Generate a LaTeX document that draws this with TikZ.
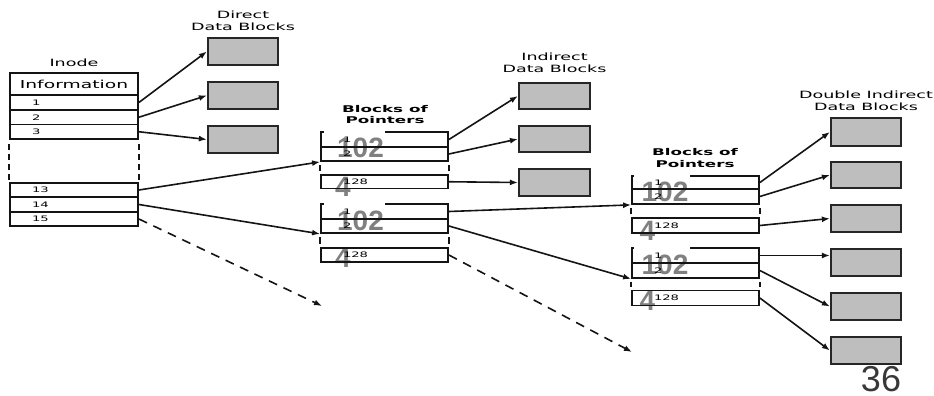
\documentclass[tikz,border=0pt]{standalone}
\usepackage{fontspec}
\setmainfont{DejaVu Sans}
\newfontfamily\ovfont{Liberation Sans}
\usetikzlibrary{arrows.meta,calc}

\definecolor{linec}{HTML}{141414}
\definecolor{blkfill}{HTML}{BEBEBE}
\definecolor{blkline}{HTML}{262626}
\definecolor{ovgray}{HTML}{808080}
\definecolor{pagegray}{HTML}{383838}

% wide lettering of the labels
\newcommand\widetxt[1]{\scalebox{1.75}[1]{#1}}
\newcommand\boldwide[1]{\scalebox{1.8}[1]{\bfseries #1}}

\begin{document}
\begin{tikzpicture}[x=1pt,y=-1pt,
  lab/.style={inner sep=0pt, align=center, font=\fontsize{10}{12}\selectfont},
  plab/.style={inner sep=0pt, align=center, font=\fontsize{9.3}{11.5}\selectfont},
  infocell/.style={draw=linec, line width=1.8pt, minimum width=128pt, minimum height=22pt,
    inner sep=0pt, font=\fontsize{11}{12}\selectfont},
  inodecell/.style={draw=linec, line width=1.8pt, minimum width=128pt, text width=84pt,
    inner xsep=22pt, inner ysep=0pt, align=left, font=\fontsize{7.5}{8}\selectfont},
  ptrcell/.style={inodecell, minimum width=127pt, text width=83pt},
  datablk/.style={draw=blkline, fill=blkfill, line width=2.2pt, minimum width=70pt,
    minimum height=27pt, inner sep=0pt},
  bigdig/.style={inner sep=0pt, text=ovgray, font=\ovfont\bfseries\fontsize{28}{28}\selectfont},
  sidedash/.style={draw=linec, line width=2.2pt, shorten <=3pt, shorten >=3pt},
  ptr/.style={draw=linec, line width=1.6pt, -{Latex[length=8pt,width=6pt]}},
  dptr/.style={ptr, dash pattern=on 9pt off 7pt}]
\useasboundingbox (0,0) rectangle (934,396);

% ---------- overlaid grey figures (under the cell borders) ----------
\node[bigdig] (oa1) at (360.5,148) {102};
\node[bigdig] (oa2) at (343,187) {4};
\node[bigdig] (ob1) at (360.5,220.5) {102};
\node[bigdig] (ob2) at (343,258) {4};
\node[bigdig] (oc1) at (665,192) {102};
\node[bigdig] (oc2) at (647.5,231) {4};
\node[bigdig] (od1) at (665,265) {102};
\node[bigdig] (od2) at (647.5,301) {4};

% ---------- inode ----------
\node[lab] (linode) at (74,63) {\widetxt{Inode}};
\node[infocell] (info) at (74,84) {\scalebox{1.7}[1]{Information}};
\node[inodecell, minimum height=15pt]   (r1)  at (74,102.5)  {\widetxt{1}};
\node[inodecell, minimum height=14.5pt] (r2)  at (74,117.25) {\widetxt{2}};
\node[inodecell, minimum height=14.5pt] (r3)  at (74,131.75) {\widetxt{3}};
\node[inodecell, minimum height=14pt]   (r13) at (74,190)    {\widetxt{13}};
\node[inodecell, minimum height=15pt]   (r14) at (74,204.5)  {\widetxt{14}};
\node[inodecell, minimum height=14pt]   (r15) at (74,219)    {\widetxt{15}};
\draw[draw=linec, line width=2.4pt, dash pattern=on 6pt off 4pt, dash phase=6pt]
  (r3.south west) -- (r13.north west);
\draw[draw=linec, line width=2.4pt, dash pattern=on 6pt off 4pt, dash phase=6pt]
  (r3.south east) -- (r13.north east);

% ---------- direct data blocks ----------
\node[lab] (ldirect) at (243,21) {\widetxt{Direct}\\\widetxt{Data Blocks}};
\node[datablk] (dA1) at (243,51.5) {};
\node[datablk] (dA2) at (243,95.5) {};
\node[datablk] (dA3) at (243,139.5) {};

% ---------- first level blocks of pointers ----------
\node[plab] (lptr1) at (385,114.5) {\boldwide{Blocks of}\\\boldwide{Pointers}};
\node[ptrcell, minimum height=15pt]   (a1) at (384.5,139.5)  {\widetxt{1}};
\node[ptrcell, minimum height=14pt]   (a2) at (384.5,154)    {\widetxt{2}};
\node[ptrcell, minimum height=13.5pt] (a3) at (384.5,181.75) {\widetxt{128}};
\node[ptrcell, minimum height=15pt]   (b1) at (384.5,211.5)  {\widetxt{1}};
\node[ptrcell, minimum height=14pt]   (b2) at (384.5,226)    {\widetxt{2}};
\node[ptrcell, minimum height=14pt]   (b3) at (384.5,255)    {\widetxt{128}};

% ---------- second level blocks of pointers ----------
\node[plab] (lptr2) at (695,158) {\boldwide{Blocks of}\\\boldwide{Pointers}};
\node[ptrcell, minimum height=13pt] (c1) at (695.5,182.5) {\widetxt{1}};
\node[ptrcell, minimum height=15pt] (c2) at (695.5,196.5) {\widetxt{2}};
\node[ptrcell, minimum height=15pt] (c3) at (695.5,225.5) {\widetxt{128}};
\node[ptrcell, minimum height=15pt] (d1) at (695.5,255.5) {\widetxt{1}};
\node[ptrcell, minimum height=15pt] (d2) at (695.5,270.5) {\widetxt{2}};
\node[ptrcell, minimum height=15pt] (d3) at (695.5,298)   {\widetxt{128}};

% openings in the top edges of the pointer blocks
\fill[white] ($(a1.north west)+(4,-1.6)$) rectangle ($(a1.north west)+(65,1.6)$);
\fill[white] ($(b1.north west)+(4,-1.6)$) rectangle ($(b1.north west)+(65,1.6)$);
\fill[white] ($(c1.north west)+(3,-1.6)$) rectangle ($(c1.north west)+(59,1.6)$);
\fill[white] ($(d1.north west)+(3,-1.6)$) rectangle ($(d1.north west)+(59,1.6)$);

% elided middle of each pointer block
\foreach \u/\l in {a2/a3,b2/b3,c2/c3,d2/d3}{
  \draw[sidedash] (\u.south west) -- (\l.north west);
  \draw[sidedash] (\u.south east) -- (\l.north east);
}

% ---------- indirect data blocks ----------
\node[lab] (lindirect) at (554.5,63) {\widetxt{Indirect}\\\widetxt{Data Blocks}};
\node[datablk, minimum width=71pt, minimum height=26pt] (iA1) at (554.5,96) {};
\node[datablk, minimum width=71pt, minimum height=26pt] (iA2) at (554.5,139) {};
\node[datablk, minimum width=71pt] (iA3) at (554.5,182.5) {};

% ---------- double indirect data blocks ----------
\node[lab] (ldouble) at (866,100.5) {\widetxt{Double Indirect}\\\widetxt{Data Blocks}};
\node[datablk, minimum height=28pt] (dd1) at (866,132) {};
\node[datablk, minimum height=26pt] (dd2) at (866,175) {};
\node[datablk] (dd3) at (866,218.5) {};
\node[datablk] (dd4) at (866,262.5) {};
\node[datablk] (dd5) at (866,306.5) {};
\node[datablk] (dd6) at (866,350.5) {};

% ---------- pointers ----------
\draw[ptr] (r1.east) -- (dA1.west);
\draw[ptr] (r2.east) -- (dA2.west);
\draw[ptr] (r3.east) -- (dA3.west);
\draw[ptr] (r13.east) -- (a2.south west);
\draw[ptr] (r14.east) -- (b2.south west);
\coordinate (more1) at (322,306);
\draw[dptr] (r15.east) -- (more1);

\draw[ptr] (a1.east) -- (iA1.west);
\draw[ptr] (a2.east) -- (iA2.west);
\draw[ptr] (a3.east) -- (iA3.west);
\draw[ptr] (b1.east) -- (c2.south west);
\draw[ptr] (b2.east) -- (d2.south west);
\coordinate (more2) at (632,352);
\draw[dptr] (b3.east) -- (more2);

\draw[ptr] (c1.east) -- (dd1.west);
\draw[ptr] (c2.east) -- (dd2.west);
\draw[ptr] (c3.east) -- (dd3.west);
\draw[ptr] (d1.east) -- (d1.east -| dd4.west);
\draw[ptr] (d2.east) -- (dd5.west);
\draw[ptr] (d3.east) -- (dd6.west);

% ---------- page number ----------
\node[inner sep=0pt, text=pagegray, font=\ovfont\fontsize{36}{36}\selectfont] (pg) at (881,379) {36};
\end{tikzpicture}
\end{document}
